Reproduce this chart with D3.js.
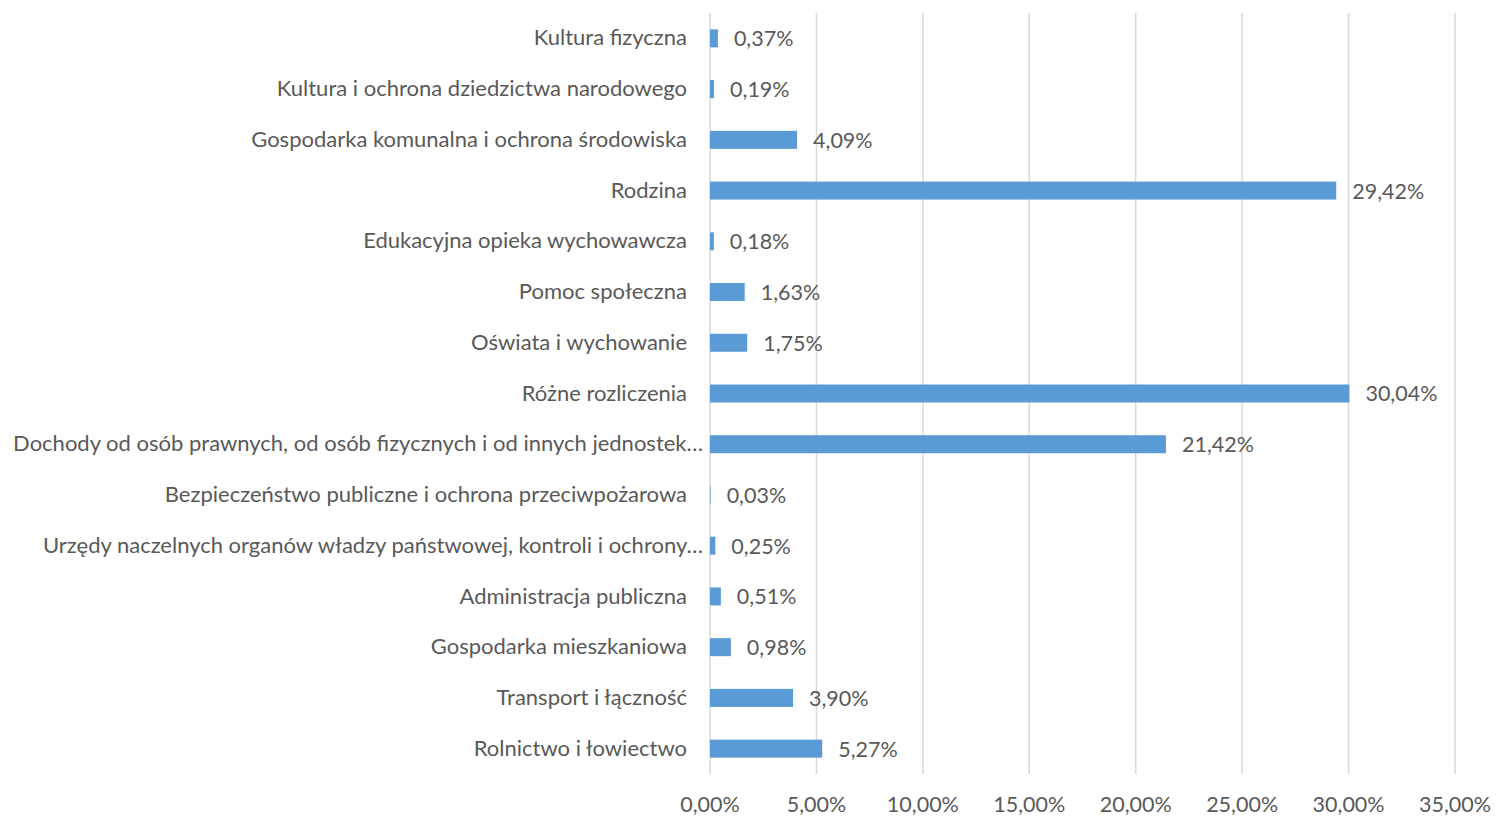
<!DOCTYPE html>
<html>
<head>
<meta charset="utf-8">
<script src="https://cdn.jsdelivr.net/npm/d3@7"></script>
<style>
  body { margin: 0; background: #fff; }
  text { font-family: Lato, "Open Sans", sans-serif; fill: #595959; }
</style>
</head>
<body>
<div id="chart"></div>
<script>
// categories top to bottom
const categories = [
  "Kultura fizyczna",
  "Kultura i ochrona dziedzictwa narodowego",
  "Gospodarka komunalna i ochrona środowiska",
  "Rodzina",
  "Edukacyjna opieka wychowawcza",
  "Pomoc społeczna",
  "Oświata i wychowanie",
  "Różne rozliczenia",
  "Dochody od osób prawnych, od osób fizycznych i od innych jednostek…",
  "Bezpieczeństwo publiczne i ochrona przeciwpożarowa",
  "Urzędy naczelnych organów władzy państwowej, kontroli i ochrony…",
  "Administracja publiczna",
  "Gospodarka mieszkaniowa",
  "Transport i łączność",
  "Rolnictwo i łowiectwo"
];
const values = [0.37, 0.19, 4.09, 29.42, 0.18, 1.63, 1.75, 30.04, 21.42, 0.03, 0.25, 0.51, 0.98, 3.90, 5.27];
const ticks = [0, 5, 10, 15, 20, 25, 30, 35];

const width = 1504, height = 816;
const fmt = v => v.toFixed(2).replace(".", ",") + "%";

const svg = d3.select("#chart").append("svg")
    .attr("width", width)
    .attr("height", height);

const x = d3.scaleLinear().domain([0, 35]).range([710, 1455]);
const y = d3.scaleBand().domain(categories).range([13, 774]).paddingInner(0.645).paddingOuter(0.3225);

// gridlines
svg.selectAll("line.grid")
    .data(ticks)
    .join("line")
    .attr("class", "grid")
    .attr("x1", d => x(d)).attr("x2", d => x(d))
    .attr("y1", 13).attr("y2", 774)
    .attr("stroke", "#d9d9d9")
    .attr("stroke-width", 1.5);

// x axis labels
svg.selectAll("text.tick")
    .data(ticks)
    .join("text")
    .attr("class", "tick")
    .attr("x", d => x(d))
    .attr("y", 807)
    .attr("text-anchor", "middle")
    .attr("dominant-baseline", "middle")
    .style("font-size", "21.5px")
    .text(d => fmt(d));

// bars
svg.selectAll("rect.bar")
    .data(values)
    .join("rect")
    .attr("class", "bar")
    .attr("x", x(0))
    .attr("y", (d, i) => y(categories[i]))
    .attr("width", d => x(d) - x(0))
    .attr("height", y.bandwidth())
    .attr("fill", "#5b9bd5");

// value labels
svg.selectAll("text.val")
    .data(values)
    .join("text")
    .attr("class", "val")
    .attr("x", d => x(d) + 16)
    .attr("y", (d, i) => y(categories[i]) + y.bandwidth() / 2 + 2.5)
    .attr("dominant-baseline", "middle")
    .style("font-size", "21.5px")
    .text(d => fmt(d));

// category labels
svg.selectAll("text.cat")
    .data(categories)
    .join("text")
    .attr("class", "cat")
    .attr("x", (d, i) => d.endsWith("…") ? 703 : 687)
    .attr("y", d => y(d) + y.bandwidth() / 2 + 1.5)
    .attr("text-anchor", "end")
    .attr("dominant-baseline", "middle")
    .style("font-size", "22px")
    .text(d => d);
</script>
</body>
</html>
